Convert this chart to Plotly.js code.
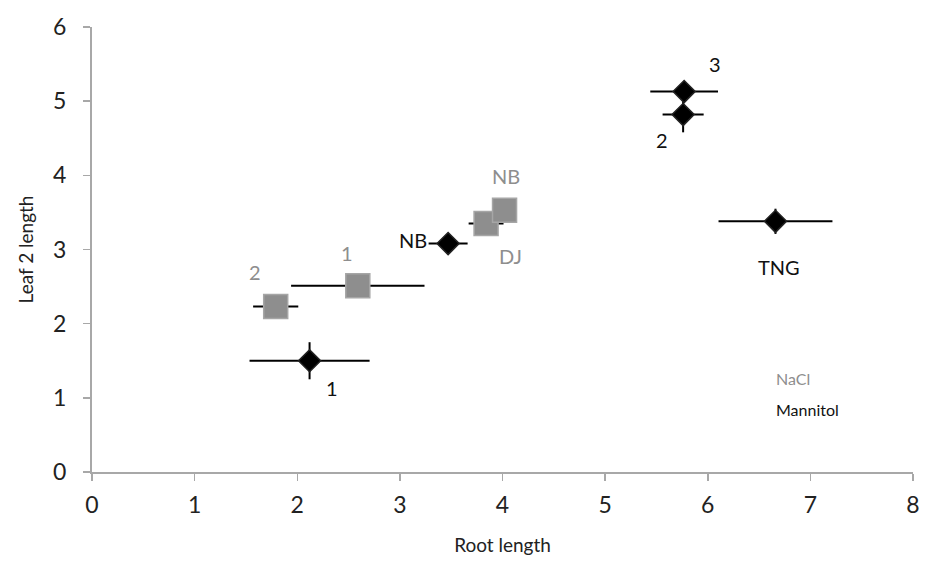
<!DOCTYPE html>
<html>
<head>
<meta charset="utf-8">
<script src="https://cdn.plot.ly/plotly-3.0.1.min.js"></script>
<style>html,body{margin:0;padding:0;background:#fff;}#chart{width:927px;height:572px;}</style>
</head>
<body>
<div id="chart"></div>
<script>
// NaCl (grey squares)
const naclLabels = ["2", "1", "DJ", "NB"];
const naclRoot = [1.79, 2.59, 3.84, 4.02];
const naclLeaf = [2.23, 2.51, 3.35, 3.53];
const naclRootErr = [0.22, 0.65, 0.17, 0.0];
const naclLeafErr = [0.0, 0.0, 0.0, 0.0];

// Mannitol (black diamonds)
const manLabels = ["1", "NB", "2", "3", "TNG"];
const manRoot = [2.12, 3.47, 5.76, 5.77, 6.66];
const manLeaf = [1.50, 3.08, 4.82, 5.13, 3.38];
const manRootErr = [0.585, 0.19, 0.20, 0.33, 0.555];
const manLeafErr = [0.25, 0.0, 0.24, 0.14, 0.17];

const xTicks = [0, 1, 2, 3, 4, 5, 6, 7, 8];
const yTicks = [0, 1, 2, 3, 4, 5, 6];

// label offsets in pixels (style, not data)
const naclOffsets = [[-21, 35], [-11, 33], [24, -32], [1, 34]];
const manOffsets = [[22, -27], [-35, 4], [-21, -25], [31, 28], [4, -46]];

const GREY = "#8e8e8e";
const FONT = "Lato, 'Open Sans', sans-serif";

const traces = [
  {
    type: "scatter", mode: "markers", name: "NaCl",
    x: naclRoot, y: naclLeaf,
    error_x: {type: "data", array: naclRootErr, visible: true, color: "#000", thickness: 2, width: 0},
    error_y: {type: "data", array: naclLeafErr, visible: true, color: "#000", thickness: 2, width: 0},
    marker: {symbol: "square", size: 24, color: GREY, line: {color: "#a6a6a6", width: 1.5}}
  },
  {
    type: "scatter", mode: "markers", name: "Mannitol",
    x: manRoot, y: manLeaf,
    error_x: {type: "data", array: manRootErr, visible: true, color: "#000", thickness: 2, width: 0},
    error_y: {type: "data", array: manLeafErr, visible: true, color: "#000", thickness: 2, width: 0},
    marker: {symbol: "diamond", size: 17, color: "#000", line: {color: "#222", width: 1.5}}
  }
];

const annotations = [];
naclLabels.forEach((t, i) => annotations.push({
  x: naclRoot[i], y: naclLeaf[i], xref: "x", yref: "y", text: t, showarrow: false,
  xshift: naclOffsets[i][0], yshift: naclOffsets[i][1],
  font: {family: FONT, size: 20, color: GREY}
}));
manLabels.forEach((t, i) => annotations.push({
  x: manRoot[i], y: manLeaf[i], xref: "x", yref: "y", text: t, showarrow: false,
  xshift: manOffsets[i][0], yshift: manOffsets[i][1],
  font: {family: FONT, size: 20, color: "#111"}
}));

const L = 92, R = 14, T = 27, B = 100, W = 927, H = 572;
const pw = W - L - R, ph = H - T - B;
// legend text (pixel positions converted to paper coordinates)
annotations.push({x: (774 - L) / pw, y: (H - B - 378) / ph, xref: "paper", yref: "paper", text: "NaCl", showarrow: false,
  xanchor: "left", yanchor: "middle", font: {family: FONT, size: 16, color: GREY}});
annotations.push({x: (774 - L) / pw, y: (H - B - 409) / ph, xref: "paper", yref: "paper", text: "Mannitol", showarrow: false,
  xanchor: "left", yanchor: "middle", font: {family: FONT, size: 16, color: "#111"}});

const layout = {
  width: W, height: H,
  margin: {l: L, r: R, t: T, b: B},
  paper_bgcolor: "#fff", plot_bgcolor: "#fff",
  showlegend: false,
  font: {family: FONT, color: "#222"},
  xaxis: {
    range: [0, 8], tickvals: xTicks, ticktext: xTicks.map(String),
    showgrid: false, zeroline: false, showline: true, linecolor: "#a8a8a8", linewidth: 2,
    ticks: "outside", ticklen: 7, tickcolor: "#a8a8a8", tickwidth: 1.5,
    ticklabelstandoff: 4,
    tickfont: {family: FONT, size: 23, color: "#222"},
    title: {text: "Root length", font: {family: FONT, size: 19, color: "#222"}, standoff: 22}
  },
  yaxis: {
    range: [0, 6], tickvals: yTicks, ticktext: yTicks.map(String),
    showgrid: false, zeroline: false, showline: true, linecolor: "#a8a8a8", linewidth: 2,
    ticks: "outside", ticklen: 7, tickcolor: "#a8a8a8", tickwidth: 1.5,
    ticklabelstandoff: 12,
    tickfont: {family: FONT, size: 23, color: "#222"},
    title: {text: "Leaf 2 length", font: {family: FONT, size: 19, color: "#222"}, standoff: 14}
  },
  annotations: annotations
};

Plotly.newPlot("chart", traces, layout, {displayModeBar: false, staticPlot: true});
</script>
</body>
</html>
